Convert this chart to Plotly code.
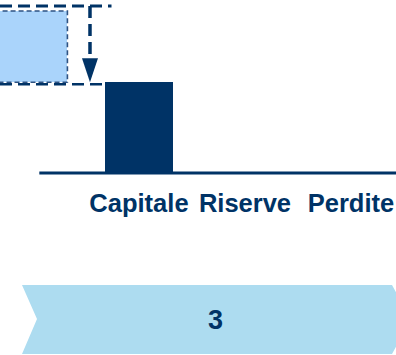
import plotly.graph_objects as go

# --- data -------------------------------------------------------------
categories = ["Capitale", "Riserve", "Perdite"]
cat_pos = [1, 2, 3]
capitale = [56, None, None]      # bar values per category
totale_prec = 100                # previous total (ghost bar at x=0)
step_label = "3"

# --- geometry ----------------------------------------------------------
W, H = 396, 355
BASE_PX = 173            # pixel row of y = 0
PLOT_BOTTOM = 180        # pixel row where the plot area ends
PX_PER_UNIT = 1.62
X_MIN, X_MAX = -0.311, 3.425
BAR_W = 0.65

UX = (X_MAX - X_MIN) / W          # x-units per pixel
UY = 1 / PX_PER_UNIT              # y-units per pixel
Y_MIN = -(PLOT_BOTTOM - BASE_PX) * UY
Y_MAX = BASE_PX * UY

NAVY = "#003366"
BOX_FILL = "#AAD4FB"
CHEVRON = "#ADDCF0"
FONT = "Liberation Sans, Arial, sans-serif"

cap = capitale[0]

fig = go.Figure()

# ghost bar: previous total, floating above the capital bar level
fig.add_trace(go.Bar(
    x=[0], y=[totale_prec - cap], base=[cap], width=BAR_W,
    marker=dict(color=BOX_FILL, line=dict(width=0)),
    hoverinfo="skip", showlegend=False,
))
# category bars
fig.add_trace(go.Bar(
    x=cat_pos, y=capitale, width=BAR_W,
    marker=dict(color=NAVY, line=dict(width=0)),
    showlegend=False,
))

shapes = []
# dashed outline of the ghost bar
shapes.append(dict(type="rect", xref="x", yref="y",
                   x0=-BAR_W / 2, x1=BAR_W / 2, y0=cap, y1=totale_prec,
                   line=dict(color="#2E5282", width=1.6, dash="5px,3px")))
# dashed guide at previous total level
top_y = totale_prec + 5 * UY
shapes.append(dict(type="line", xref="x", yref="y",
                   x0=X_MIN, x1=1 - BAR_W / 2 + 7 * UX, y0=top_y, y1=top_y,
                   line=dict(color=NAVY, width=3, dash="12px,6px")))
# dashed guide at new level
low_y = cap - 2 * UY
shapes.append(dict(type="line", xref="x", yref="y",
                   x0=X_MIN, x1=1 - BAR_W / 2, y0=low_y, y1=low_y,
                   line=dict(color=NAVY, width=2.5, dash="12px,6px")))
# arrow: dashed shaft + solid head
ax = 0.538
head_h = 24 * UY
head_w = 8 * UX
shapes.append(dict(type="line", xref="x", yref="y",
                   x0=ax, x1=ax, y0=top_y, y1=cap + head_h,
                   line=dict(color=NAVY, width=3.5, dash="12px,6px")))
shapes.append(dict(type="path", xref="x", yref="y",
                   path=f"M {ax - head_w},{cap + head_h} L {ax + head_w},{cap + head_h} L {ax},{cap} Z",
                   fillcolor=NAVY, line=dict(width=0)))
# baseline
shapes.append(dict(type="line", xref="x", yref="y",
                   x0=0.06, x1=X_MAX, y0=0, y1=0,
                   line=dict(color=NAVY, width=3)))

# step chevron below the chart (paper coordinates)
plot_h = PLOT_BOTTOM


def px(x):
    return x / W


def py(y):
    return (PLOT_BOTTOM - y) / plot_h


chev = [(22, 285), (392, 285), (411, 319), (392, 354), (22, 354), (37, 319)]
path = "M " + " L ".join(f"{px(a)},{py(b)}" for a, b in chev) + " Z"
shapes.append(dict(type="path", xref="paper", yref="paper", path=path,
                   fillcolor=CHEVRON, line=dict(width=0), layer="below"))

fig.update_layout(
    width=W, height=H, autosize=False,
    margin=dict(l=0, r=0, t=0, b=H - PLOT_BOTTOM, pad=0),
    paper_bgcolor="white", plot_bgcolor="white",
    bargap=0, barmode="overlay",
    shapes=shapes,
    xaxis=dict(range=[X_MIN, X_MAX], tickvals=cat_pos, ticktext=categories,
               showgrid=False, zeroline=False, showline=False, ticks="",
               tickfont=dict(family=FONT, size=25.5, color=NAVY, weight="bold"),
               ticklabelstandoff=5, fixedrange=True),
    yaxis=dict(range=[Y_MIN, Y_MAX], visible=False, fixedrange=True),
    annotations=[dict(text=step_label, xref="paper", yref="paper",
                      x=px(215), y=py(320), showarrow=False,
                      xanchor="center", yanchor="middle",
                      font=dict(family=FONT, size=27, color=NAVY, weight="bold"))],
)

fig.write_html("out.html")
